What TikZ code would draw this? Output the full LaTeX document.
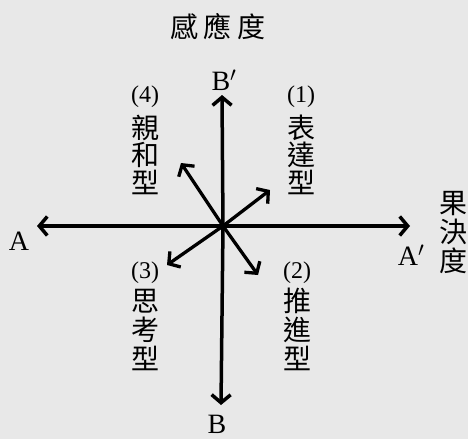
\documentclass[tikz,border=0pt]{standalone}
\usepackage{fontspec}
\setmainfont{Liberation Serif}
\newfontfamily\cjk{Noto Sans CJK TC}
\usetikzlibrary{arrows.meta}
\begin{document}
\begin{tikzpicture}[x=1pt, y=-1pt, >={Straight Barb[length=8pt,width=19pt]},
    axis/.style={->, line width=3.5pt},
    kind/.style={->, line width=3.3pt},
    zi/.style={font=\cjk\fontsize{28}{28}\selectfont, inner sep=0pt},
    num/.style={font=\fontsize{24}{24}\selectfont, inner sep=0pt},
    letter/.style={font=\fontsize{28}{28}\selectfont, inner sep=0pt}]
\fill[black!9] (0,0) rectangle (468,439);
\useasboundingbox (0,0) rectangle (468,439);

\coordinate (O) at (223,226);
\coordinate (Aend) at (37,226);
\coordinate (A1end) at (410,226);
\coordinate (B1end) at (222,95);
\coordinate (Bend) at (221,405);
\draw[axis] (O)--(Aend);
\draw[axis] (O)--(A1end);
\draw[axis] (O)--(B1end);
\draw[axis] (O)--(Bend);

\coordinate (t1) at (270,190);
\coordinate (t2) at (258,275);
\coordinate (t3) at (167,265);
\coordinate (t4) at (181,163);
\foreach \t in {t1,t2,t3,t4}
{
    \draw[kind] (O)--(\t);
}

\node[letter] (A) at (19,241) {A};
\node[letter] (A1) at (411,255) {A$'$};
\node[letter] (B1) at (224,80) {B$'$};
\node[letter] (B) at (217,424) {B};

\node[zi] (gan) at (218,27) {感\hspace{6pt}應\hspace{6pt}度};
\foreach \ch [count=\i] in {果,決,度}
{
    \node[zi] (guo\i) at (453,{175+28.5*\i}) {\ch};
}

\node[num] (n1) at (301,97) {(1)};
\foreach \ch [count=\i] in {表,達,型}
{
    \node[zi] (biao\i) at (301,{100+27.5*\i}) {\ch};
}
\node[num] (n4) at (145,97) {(4)};
\foreach \ch [count=\i] in {親,和,型}
{
    \node[zi] (qin\i) at (145,{100+27.5*\i}) {\ch};
}
\node[num] (n3) at (145,273) {(3)};
\foreach \ch [count=\i] in {思,考,型}
{
    \node[zi] (si\i) at (145,{272.5+28.5*\i}) {\ch};
}
\node[num] (n2) at (297,273) {(2)};
\foreach \ch [count=\i] in {推,進,型}
{
    \node[zi] (tui\i) at (297,{272.5+28.5*\i}) {\ch};
}

\end{tikzpicture}
\end{document}
